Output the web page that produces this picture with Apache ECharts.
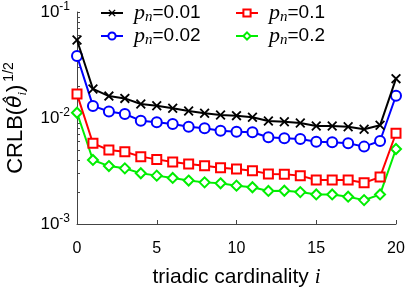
<!DOCTYPE html>
<html><head><meta charset="utf-8">
<script src="https://cdn.jsdelivr.net/npm/echarts@6/dist/echarts.min.js"></script>
<style>html,body{margin:0;padding:0;background:#fff}#c{width:415px;height:291px}</style>
</head><body><div id="c"></div>
<script>
var cardinality = [0,1,2,3,4,5,6,7,8,9,10,11,12,13,14,15,16,17,18,19,20];
var pn001 = [0.0544,0.0188,0.0161,0.0153,0.01355,0.01306,0.01234,0.01164,0.01107,0.01067,0.01052,0.01015,0.00937,0.00923,0.00898,0.0084,0.0084,0.00828,0.00783,0.00853,0.0235];
var pn002 = [0.0385,0.013,0.0115,0.0109,0.00943,0.0091,0.00878,0.00828,0.008,0.00759,0.00743,0.00733,0.00658,0.00643,0.00634,0.00598,0.0059,0.00577,0.00537,0.00607,0.0162];
var pn01 = [0.0168,0.00577,0.00499,0.00481,0.00432,0.00407,0.00385,0.00368,0.00355,0.0034,0.0033,0.00318,0.00297,0.00294,0.00286,0.0026,0.0026,0.0026,0.00245,0.00277,0.00718];
var pn02 = [0.0112,0.00402,0.00352,0.00335,0.00301,0.00286,0.00272,0.00257,0.00247,0.00242,0.0023,0.00222,0.00205,0.00206,0.002,0.0019,0.0019,0.00181,0.00168,0.0019,0.0051];
var seriesNames = ['0.01','0.02','0.1','0.2'];
var xTicks = [0,5,10,15,20];
var yMajor = [0.001,0.01,0.1];
var yMinor = [0.002,0.003,0.004,0.005,0.006,0.007,0.008,0.009,0.02,0.03,0.04,0.05,0.06,0.07,0.08,0.09];

function pairs(v){return cardinality.map(function(x,k){return [x,v[k]];});}
var crossPath = 'path://M0,1.3L1.3,0L5,3.7L8.7,0L10,1.3L6.3,5L10,8.7L8.7,10L5,6.3L1.3,10L0,8.7L3.7,5Z';
var colors = ['#000000','#0000ff','#ff0000','#00ee00'];
var symbols = [crossPath,'emptyCircle','emptyRect','emptyDiamond'];
var sizes = [10,10,9,10];
var vals = [pn001,pn002,pn01,pn02];
var series = vals.map(function(v,k){
  return {name:seriesNames[k],type:'line',data:pairs(v),symbol:symbols[k],symbolSize:sizes[k],
    showAllSymbol:true,
    lineStyle:{color:colors[k],width:2},
    itemStyle:{color:colors[k],borderColor:colors[k],borderWidth:k===0?0:2},
    z:10-k};
});
var rich = {
  p:{fontFamily:'Liberation Serif',fontStyle:'italic',fontSize:22,color:'#000',lineHeight:22},
  n:{fontFamily:'Liberation Serif',fontStyle:'italic',fontSize:15,color:'#000',verticalAlign:'bottom',padding:[9,0,0,0]},
  t:{fontFamily:'Liberation Sans',fontSize:19,color:'#000'}
};
function legendFmt(name){return '{p|p}{n|n}{t|='+name+'}';}
var legendBase = {orient:'vertical',itemWidth:22,itemHeight:9,itemGap:0,
  formatter:legendFmt,textStyle:{rich:rich,padding:[0,0,0,6]},selectedMode:false};
var chart = echarts.init(document.getElementById('c'),null,{renderer:'canvas'});
chart.setOption({
  animation:false,
  backgroundColor:'#fff',
  legend:[
    Object.assign({},legendBase,{data:[seriesNames[0],seriesNames[1]],left:95,top:-3}),
    Object.assign({},legendBase,{data:[seriesNames[2],seriesNames[3]],left:230,top:-3})
  ],
  grid:{left:77,right:19,top:12,bottom:67,outerBoundsMode:'none',containLabel:false},
  xAxis:{type:'value',min:0,max:20,interval:5,
    name:'{a|triadic cardinality }{i|i}',nameLocation:'middle',nameGap:43,
    nameTextStyle:{rich:{a:{fontFamily:'Liberation Sans',fontSize:21,color:'#000'},i:{fontFamily:'Liberation Serif',fontStyle:'italic',fontSize:21,color:'#000'}}},
    axisLine:{show:true,lineStyle:{color:'#444',width:1}},
    axisTick:{show:true,inside:true,length:4,lineStyle:{color:'#444'}},
    axisLabel:{fontFamily:'Liberation Sans',fontSize:16,color:'#000',margin:17,
      customValues:xTicks},
    splitLine:{show:false}},
  yAxis:{type:'log',logBase:10,min:0.001,max:0.1,
    name:'{a|CRLB(}{th|θ̂}{s|i}{a|)}{sp|1/2}',nameLocation:'middle',nameGap:41,nameRotate:90,
    nameTextStyle:{rich:{
      a:{fontFamily:'Liberation Sans',fontSize:22,color:'#000',lineHeight:26},
      th:{fontFamily:'DejaVu Sans',fontStyle:'italic',fontSize:20,color:'#000',lineHeight:26},
      s:{fontFamily:'Liberation Serif',fontStyle:'italic',fontSize:13,color:'#000',verticalAlign:'bottom',padding:[11,0,0,0]},
      sp:{fontFamily:'Liberation Sans',fontSize:14,color:'#000',verticalAlign:'top',padding:[0,0,13,3]}
    }},
    axisLine:{show:true,lineStyle:{color:'#444',width:1}},
    axisTick:{show:true,inside:true,length:3,lineStyle:{color:'#444'},customValues:yMajor.concat(yMinor)},
    axisLabel:{customValues:yMajor,margin:7,
      formatter:function(v){var e=Math.round(Math.log10(v));return '{b|10}{e|'+e+'}';},
      rich:{b:{fontFamily:'Liberation Sans',fontSize:17,color:'#000',lineHeight:18},
            e:{fontFamily:'Liberation Sans',fontSize:12,color:'#000',verticalAlign:'top',padding:[0,0,10,0]}}},
    splitLine:{show:false},minorTick:{show:false}},
  series:series
});
</script></body></html>
